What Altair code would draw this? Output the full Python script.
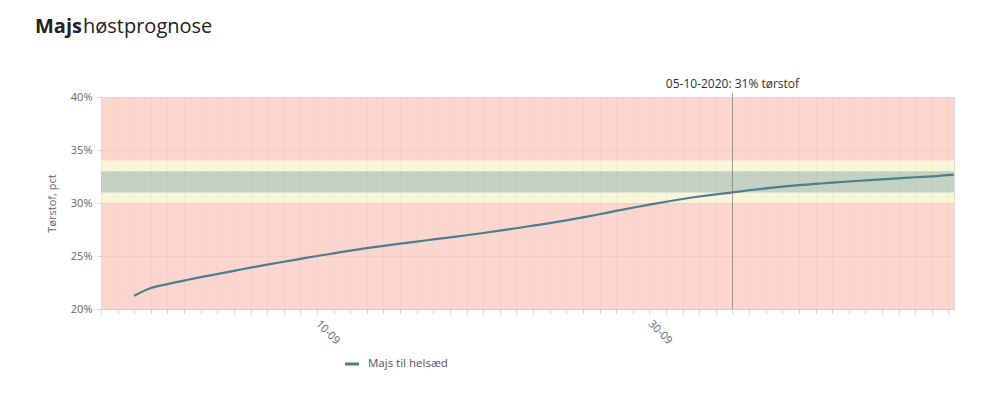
import altair as alt
import pandas as pd

# ---------------- data ----------------
dates = [
    "2020-08-30", "2020-08-31", "2020-09-01", "2020-09-02", "2020-09-03",
    "2020-09-04", "2020-09-05", "2020-09-06", "2020-09-07", "2020-09-08",
    "2020-09-09", "2020-09-10", "2020-09-11", "2020-09-12", "2020-09-13",
    "2020-09-14", "2020-09-15", "2020-09-16", "2020-09-17", "2020-09-18",
    "2020-09-19", "2020-09-20", "2020-09-21", "2020-09-22", "2020-09-23",
    "2020-09-24", "2020-09-25", "2020-09-26", "2020-09-27", "2020-09-28",
    "2020-09-29", "2020-09-30", "2020-10-01", "2020-10-02", "2020-10-03",
    "2020-10-04", "2020-10-05", "2020-10-06", "2020-10-07", "2020-10-08",
    "2020-10-09", "2020-10-10", "2020-10-11", "2020-10-12", "2020-10-13",
    "2020-10-14", "2020-10-15", "2020-10-16", "2020-10-17", "2020-10-18T08:00",
]
values = [
    21.25, 21.98, 22.35, 22.68, 23.0,
    23.3, 23.6, 23.9, 24.18, 24.46,
    24.73, 25.0, 25.25, 25.5, 25.74,
    25.96, 26.16, 26.36, 26.56, 26.76,
    26.96, 27.17, 27.39, 27.62, 27.86,
    28.1, 28.36, 28.64, 28.94, 29.25,
    29.55, 29.84, 30.12, 30.38, 30.61,
    30.82, 31.0, 31.2, 31.38, 31.54,
    31.68, 31.8, 31.92, 32.03, 32.13,
    32.23, 32.33, 32.43, 32.52, 32.68,
]
series_name = "Majs til helsæd"

band_lo = [20, 30, 31]
band_hi = [40, 34, 33]
band_colors = ["#fcd5cc", "#fbf5d8", "#c3d2c2"]

marker_date = "2020-10-05"
marker_label = "05-10-2020: 31% tørstof"

y_ticks = [20, 25, 30, 35, 40]
x_start = "2020-08-28T00:00"
x_end = "2020-10-18T08:00"
label_days = ["10-09", "30-09"]

title_bold = "Majs"
title_rest = "høstprognose"
y_title = "Tørstof, pct"

# ---------------- layout ----------------
W, H = 853, 212
FONT = "Open Sans"
LINE_COLOR = "#4b7f8e"


def iso(s):
    s = s if "T" in s else s + "T00:00"
    return s + ":00Z"


def ms(s):
    return int(pd.Timestamp(iso(s)).timestamp() * 1000)


df = pd.DataFrame({"date": [iso(d) for d in dates], "value": values, "series": series_name})
bands = pd.DataFrame({"lo": band_lo, "hi": band_hi, "color": band_colors})
marker = pd.DataFrame({"date": [iso(marker_date)], "label": [marker_label]})
one = pd.DataFrame({"a": [0]})

day_ticks = [ms(d.strftime("%Y-%m-%d")) for d in pd.date_range("2020-08-28", "2020-10-18")]

x_scale = alt.Scale(type="utc", domain=[ms(x_start), ms(x_end)], nice=False)
y_scale = alt.Scale(domain=[20, 40], nice=False, zero=False)

label_test = " || ".join(f"utcFormat(datum.value, '%d-%m') == '{d}'" for d in label_days)
x_axis = alt.Axis(
    values=day_ticks,
    labelExpr=f"({label_test}) ? utcFormat(datum.value, '%d-%m') : ''",
    labelAngle=45, labelAlign="left", labelBaseline="middle", labelPadding=8,
    labelFontSize=11, labelColor="#666", labelFont=FONT, labelOverlap=False, labelBound=False,
    labelFlush=False,
    tickSize=5, tickColor="#d4d4d4", tickWidth=1,
    domainColor="#e4c4bc", domainWidth=1,
    grid=True, gridColor="#000000", gridOpacity=0.025,
    title=None, zindex=1,
)
y_axis = alt.Axis(
    values=y_ticks, labelExpr="datum.value + '%'",
    labelFontSize=11, labelColor="#666", labelFont=FONT, labelPadding=5,
    tickSize=4, tickColor="#d4d4d4", domain=False,
    grid=True, gridColor="#000000", gridOpacity=0.03,
    title=y_title, titleFont=FONT, titleFontSize=11, titleFontWeight="normal",
    titleColor="#666", titleAngle=-90, titleX=-49, titleY=H / 2,
    titleAlign="center", titleBaseline="middle", zindex=1,
)

X = alt.X("date:T", scale=x_scale, axis=x_axis)

band_layer = alt.Chart(bands).mark_rect().encode(
    x=alt.value(0), x2=alt.value(W),
    y=alt.Y("lo:Q", scale=y_scale, axis=y_axis),
    y2="hi:Q",
    color=alt.Color("color:N", scale=None),
)

line_layer = alt.Chart(df).mark_line(strokeWidth=2.2, interpolate="monotone").encode(
    x=X,
    y=alt.Y("value:Q", scale=y_scale, axis=y_axis),
    color=alt.Color(
        "series:N",
        scale=alt.Scale(domain=[series_name], range=[LINE_COLOR]),
        legend=alt.Legend(
            orient="none", legendX=242, legendY=258, title=None,
            symbolType="stroke", symbolStrokeWidth=3, symbolSize=200,
            labelFont=FONT, labelFontSize=11.5, labelColor="#555", labelOffset=7,
        ),
    ),
)

rule_layer = alt.Chart(marker).mark_rule(color="#888", strokeWidth=1, opacity=0.8).encode(
    x=X,
    y=alt.value(-4), y2=alt.value(H),
)

rule_text = alt.Chart(marker).mark_text(
    font=FONT, fontSize=12, color="#333", align="center", baseline="alphabetic"
).encode(
    x=X,
    y=alt.value(-9),
    text="label:N",
)

title1 = alt.Chart(one).mark_text(
    font=FONT, fontSize=20, fontWeight="bold", color="#222", align="left", baseline="alphabetic"
).encode(x=alt.value(-66), y=alt.value(-64), text=alt.value(title_bold))

title2 = alt.Chart(one).mark_text(
    font=FONT, fontSize=20, color="#222", align="left", baseline="alphabetic"
).encode(x=alt.value(-18), y=alt.value(-64), text=alt.value(title_rest))

top_line = alt.Chart(one).mark_rule(color="#eeeeee", strokeWidth=3).encode(
    x=alt.value(-69), x2=alt.value(869), y=alt.value(-95.5)
)
bottom_line = alt.Chart(one).mark_rule(color="#eeeeee", strokeWidth=3).encode(
    x=alt.value(-69), x2=alt.value(869), y=alt.value(305)
)

chart = alt.layer(
    band_layer, line_layer, rule_layer, rule_text, title1, title2, top_line, bottom_line
).properties(
    width=W, height=H,
    autosize=alt.AutoSizeParams(type="none"),
    padding={"left": 93, "top": 89, "right": 26, "bottom": 87},
).configure_view(stroke=None).configure(font=FONT)

chart.save("out.html", embed_options={"renderer": "svg", "actions": False})
